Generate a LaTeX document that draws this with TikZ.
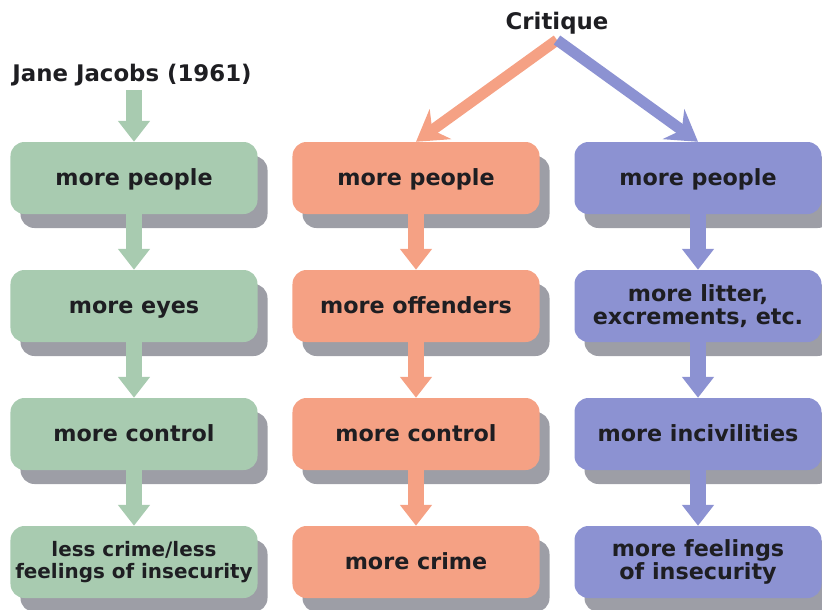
\documentclass[tikz,border=0pt]{standalone}
\usepackage{fontspec}
\setmainfont{DejaVu Sans}
\usetikzlibrary{arrows.meta,shadows}
\definecolor{jgreen}{RGB}{168,203,176}
\definecolor{corange}{RGB}{245,161,132}
\definecolor{cblue}{RGB}{140,146,210}
\definecolor{shadowgrey}{RGB}{157,158,166}
\definecolor{textdark}{RGB}{30,30,34}
\tikzset{
  box/.style={rectangle, rounded corners=0.42cm, minimum width=7.41cm,
    minimum height=2.16cm, align=center, text=textdark, inner sep=0pt,
    text height=16pt, text depth=3pt,
    font=\fontsize{19}{19}\selectfont\bfseries,
    drop shadow={shadow xshift=0.3cm, shadow yshift=-0.42cm, fill=shadowgrey, opacity=1}},
  twolines/.style={text height={}, text depth={}},
  smalltext/.style={font=\fontsize{17}{19}\selectfont\bfseries},
  title/.style={text=textdark, font=\fontsize{19.5}{20}\selectfont\bfseries},
  flow/.style={line width=0.48cm, -{Triangle[width=0.93cm,length=0.63cm]}},
  split/.style={line width=0.33cm, -{Stealth[width=1.1cm,length=0.9cm,inset=0.3cm]}},
}
\begin{document}
\begin{tikzpicture}[x=0.03cm, y=-0.03cm]
\useasboundingbox (0,0) rectangle (822,609);
% titles
\node[title] (jj) at (132,75) {Jane Jacobs (1961)};
\node[title] (crit) at (557,23) {Critique};
\coordinate (fork) at (557,40);
% Jacobs column
\node[box, fill=jgreen] (g1) at (134,178) {more people};
\node[box, fill=jgreen] (g2) at (134,306) {more eyes};
\node[box, fill=jgreen] (g3) at (134,434) {more control};
\node[box, fill=jgreen, twolines, smalltext] (g4) at (134,562) {less crime/less\\feelings of insecurity};
% critique, offenders
\node[box, fill=corange] (o1) at (416,178) {more people};
\node[box, fill=corange] (o2) at (416,306) {more offenders};
\node[box, fill=corange] (o3) at (416,434) {more control};
\node[box, fill=corange] (o4) at (416,562) {more crime};
% critique, incivilities
\node[box, fill=cblue] (b1) at (698,178) {more people};
\node[box, fill=cblue, twolines] (b2) at (698,306) {more litter,\\excrements, etc.};
\node[box, fill=cblue] (b3) at (698,434) {more incivilities};
\node[box, fill=cblue, twolines] (b4) at (698,562) {more feelings\\of insecurity};
% arrows
\draw[flow, jgreen] (g1.north |- jj.south) -- (g1.north);
\draw[flow, jgreen] (g1.south) -- (g2.north);
\draw[flow, jgreen] (g2.south) -- (g3.north);
\draw[flow, jgreen] (g3.south) -- (g4.north);
\draw[split, corange] (fork) -- (o1.north);
\draw[flow, corange] (o1.south) -- (o2.north);
\draw[flow, corange] (o2.south) -- (o3.north);
\draw[flow, corange] (o3.south) -- (o4.north);
\draw[split, cblue] (fork) -- (b1.north);
\draw[flow, cblue] (b1.south) -- (b2.north);
\draw[flow, cblue] (b2.south) -- (b3.north);
\draw[flow, cblue] (b3.south) -- (b4.north);
\end{tikzpicture}
\end{document}
